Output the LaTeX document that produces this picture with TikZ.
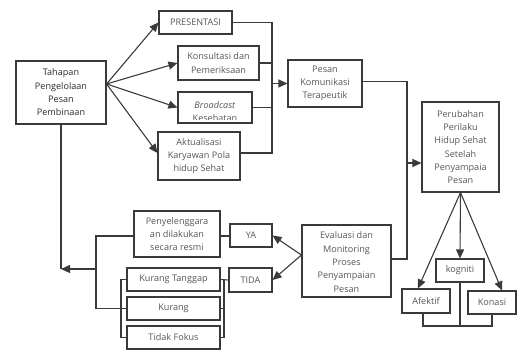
\documentclass[tikz,border=0pt]{standalone}
\usepackage{fontspec}
\setmainfont{Open Sans}
\usetikzlibrary{arrows.meta}
\definecolor{linecol}{HTML}{3A3A3A}
\definecolor{txtcol}{HTML}{555555}
\definecolor{darktxt}{HTML}{2A2A2A}
\tikzset{
  box/.style={draw=linecol, line width=1.1pt, inner sep=0pt, align=center, text=txtcol,
    font=\fontsize{9.1}{13.3}\selectfont},
  conn/.style={draw=linecol, line width=1.1pt},
  arr/.style={conn, -{Triangle[length=9pt,width=8pt]}},
  txt/.style={inner sep=0pt, align=center, text=txtcol, font=\fontsize{9.1}{13.3}\selectfont}
}
\begin{document}
\begin{tikzpicture}[x=1pt,y=-1pt]
\useasboundingbox (0,0) rectangle (517,351);
% top part
\node[box, minimum width=90pt, minimum height=63pt, text=darktxt] (tah) at (61,92.5) {Tahapan\\Pengelolaan\\Pesan\\Pembinaan};
\node[box, minimum width=73pt, minimum height=23pt] (pres) at (195.5,22.5) {PRESENTASI};
\node[box, minimum width=81pt, minimum height=34pt] (kons) at (218.5,63) {Konsultasi dan\\Pemeriksaan};
\node[box, minimum width=74pt, minimum height=31pt] (broad) at (215,107.5) {};
\begin{scope}
\clip (178,92) rectangle (252,119.5);
\node[txt, anchor=base] (broadtxt1) at (215,108) {\textit{Broadcast}};
\node[txt, anchor=base] (broadtxt2) at (215,121.3) {Kesehatan};
\end{scope}
\node[box, minimum width=82pt, minimum height=48pt] (akt) at (199,156) {Aktualisasi\\Karyawan Pola\\hidup Sehat};
\node[box, minimum width=74pt, minimum height=47pt] (pesan) at (325,83.5) {Pesan\\Komunikasi\\Terapeutik};
\node[box, minimum width=77pt, minimum height=90pt] (perub) at (460.5,147) {Perubahan\\Perilaku\\Hidup Sehat\\Setelah\\Penyampaia\\Pesan};
% bottom part
\node[box, minimum width=89pt, minimum height=72pt] (eval) at (346.5,261) {};
\node[txt] (evaltxt) at ([yshift=-1pt]eval.center) {Evaluasi dan\\Monitoring\\Proses\\Penyampaian\\Pesan};
\node[box, minimum width=48pt, minimum height=23pt] (kog) at (460,270.5) {kogniti};
\node[box, minimum width=48pt, minimum height=24pt] (afek) at (426,301) {Afektif};
\node[box, minimum width=48pt, minimum height=23pt] (kon) at (492,302.5) {Konasi};
\node[box, minimum width=42pt, minimum height=23pt] (ya) at (251,235.5) {YA};
\node[box, minimum width=43pt, minimum height=24pt] (tida) at (250.5,280) {TIDA};
\node[box, minimum width=86pt, minimum height=46pt] (peny) at (177,234) {Penyelenggara\\an dilakukan\\secara resmi};
\node[box, minimum width=93pt, minimum height=23pt] (kt) at (173.5,279.5) {Kurang Tanggap};
\node[box, minimum width=93pt, minimum height=23pt] (kur) at (173.5,308.5) {Kurang};
\node[box, minimum width=93pt, minimum height=23pt] (tf) at (173.5,337.5) {Tidak Fokus};
% connectors top
\coordinate (src) at ([yshift=8.5pt]tah.east);
\draw[arr] (src) -- (pres.west);
\draw[arr] (src) -- (kons.west);
\draw[arr] (src) -- (broad.west);
\draw[arr] (src) -- ([yshift=3pt]akt.west);
\coordinate (bus) at (272,83.5);
\draw[conn] (pres.east) -| (bus);
\draw[conn] ([yshift=3pt]akt.east) -| (bus);
\draw[conn] (kons.east) -- (kons.east -| bus);
\draw[conn] (broad.east) -- (broad.east -| bus);
\draw[arr] (bus) -- (pesan.west);
\coordinate (bus2) at (407,163);
\draw[conn] ([yshift=2pt]pesan.east) -| (bus2);
\draw[conn] ([yshift=2pt]eval.east) -| (bus2);
\draw[arr] (bus2) -- (bus2 -| perub.west);
\draw[arr] (perub.south) -- (kog.north);
\draw[arr] (perub.south) -- ([xshift=-8pt]afek.north);
\draw[arr] (perub.south) -- ([xshift=10pt]kon.north);
\coordinate (jn) at (kog.south |- 0,326);
\draw[conn] ([xshift=-3pt]afek.south) |- (jn) -| (kon.south);
\draw[conn] (kog.south) -- (jn);
% connectors bottom
\coordinate (evsrc) at ([yshift=6pt]eval.west);
\draw[arr] (evsrc) -- (ya.east);
\draw[arr] (evsrc) -- (tida.east);
\draw[conn] ([yshift=-2pt]peny.east) -- ([yshift=-2pt]peny.east -| ya.west);
\draw[conn] (kt.east) -- (tida.west);
\coordinate (rb) at (224,308.5);
\draw[conn] (kt.east) -| (rb) |- (tf.east);
\draw[conn] (kur.east) -- (rb);
\coordinate (lb) at (121,308.5);
\draw[conn] (kt.west) -| (lb) |- (tf.west);
\coordinate (ob) at (96,269);
\draw[conn] ([yshift=-2pt]peny.west) -| (ob) |- (kur.west);
\coordinate (tend) at (tah.south |- ob);
\draw[conn] (tah.south) -- (tend);
\draw[arr] (ob) -- (tend);
\end{tikzpicture}
\end{document}
